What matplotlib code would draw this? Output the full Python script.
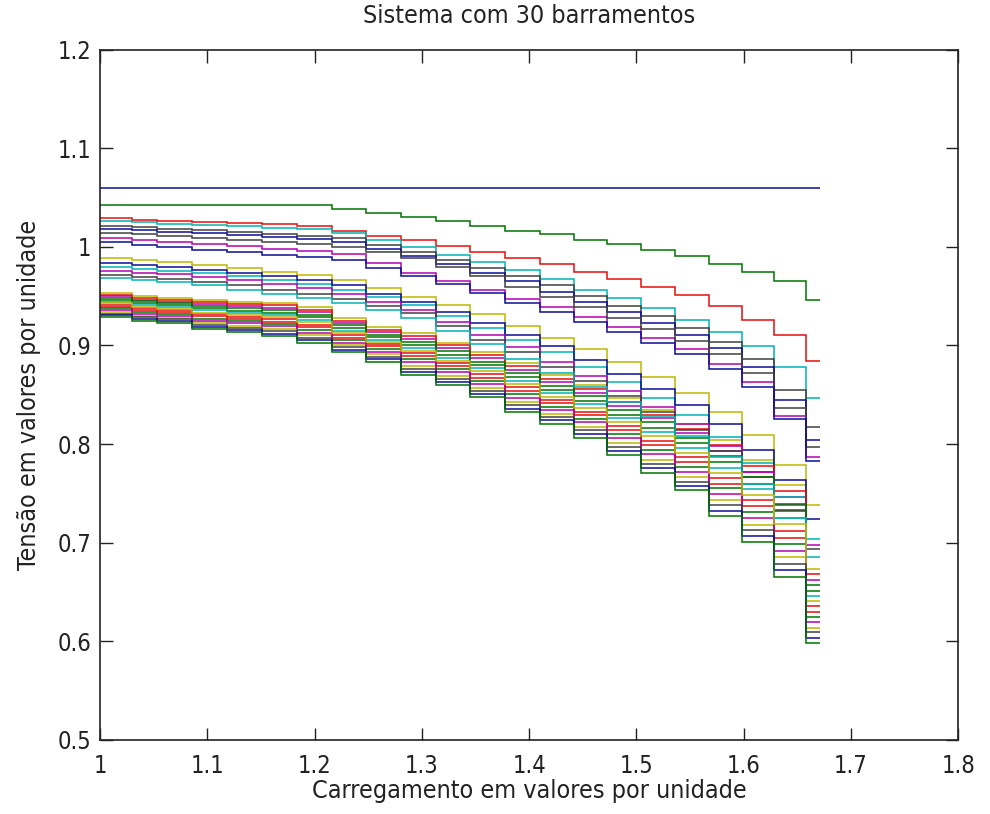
import matplotlib
matplotlib.use("Agg")
import matplotlib.pyplot as plt

# Patamares de carregamento (pu): bordas dos degraus
carregamento = [1.0, 1.0296, 1.0529, 1.0861, 1.1184, 1.1506, 1.1837, 1.2163,
                1.2480, 1.2807, 1.3128, 1.3450, 1.3776, 1.4098, 1.4420, 1.4727,
                1.5044, 1.5361, 1.5674, 1.5983, 1.6280, 1.6583, 1.6713]

# Tensões (pu) em cada patamar
v_b01 = [1.06] * 22
v_b02 = [1.042] * 7 + [1.038, 1.034, 1.030, 1.026, 1.021, 1.016, 1.013, 1.007,
                       1.003, 0.997, 0.991, 0.983, 0.975, 0.965, 0.946]
v_b03 = [1.029, 1.027, 1.026, 1.025, 1.024, 1.023, 1.021, 1.016, 1.011, 1.007, 1.001,
         0.995, 0.989, 0.983, 0.975, 0.967, 0.959, 0.951, 0.940, 0.926, 0.911, 0.884]
v_b04 = [1.026, 1.025, 1.023, 1.022, 1.021, 1.019, 1.018, 1.014, 1.007, 1.000, 0.992,
         0.985, 0.977, 0.967, 0.956, 0.948, 0.938, 0.926, 0.914, 0.899, 0.878, 0.847]
v_b05 = [0.950, 0.946, 0.944, 0.942, 0.940, 0.938, 0.934, 0.923, 0.914, 0.907, 0.897,
         0.887, 0.875, 0.863, 0.852, 0.839, 0.826, 0.811, 0.793, 0.772, 0.746, 0.662]
v_b06 = [0.989, 0.987, 0.985, 0.982, 0.979, 0.975, 0.971, 0.966, 0.958, 0.949, 0.941,
         0.932, 0.920, 0.908, 0.896, 0.883, 0.868, 0.852, 0.833, 0.809, 0.779, 0.738]
v_b07 = [1.021, 1.020, 1.018, 1.017, 1.015, 1.013, 1.011, 1.009, 1.002, 0.995, 0.987,
         0.979, 0.970, 0.961, 0.950, 0.940, 0.930, 0.918, 0.904, 0.886, 0.855, 0.817]
v_b08 = [1.018, 1.017, 1.015, 1.014, 1.012, 1.010, 1.008, 1.005, 0.998, 0.991, 0.983,
         0.974, 0.965, 0.954, 0.944, 0.934, 0.923, 0.911, 0.897, 0.878, 0.845, 0.804]
v_b09 = [0.946, 0.943, 0.941, 0.938, 0.935, 0.933, 0.929, 0.918, 0.909, 0.900, 0.890,
         0.880, 0.868, 0.855, 0.844, 0.830, 0.816, 0.801, 0.782, 0.760, 0.732, 0.651]
v_b10 = [0.941, 0.938, 0.936, 0.932, 0.929, 0.927, 0.921, 0.911, 0.901, 0.892, 0.882,
         0.871, 0.858, 0.845, 0.833, 0.818, 0.803, 0.787, 0.766, 0.743, 0.712, 0.636]
v_b11 = [0.980, 0.978, 0.976, 0.973, 0.970, 0.966, 0.962, 0.956, 0.949, 0.941, 0.930,
         0.918, 0.906, 0.893, 0.878, 0.863, 0.847, 0.829, 0.807, 0.781, 0.746, 0.704]
v_b12 = [1.009, 1.007, 1.005, 1.003, 1.001, 0.998, 0.996, 0.993, 0.984, 0.974, 0.965,
         0.956, 0.947, 0.939, 0.929, 0.919, 0.908, 0.896, 0.881, 0.863, 0.828, 0.787]
v_b13 = [0.953, 0.950, 0.948, 0.946, 0.944, 0.943, 0.939, 0.928, 0.919, 0.913, 0.903,
         0.893, 0.882, 0.870, 0.860, 0.847, 0.835, 0.820, 0.804, 0.784, 0.759, 0.673]
v_b14 = [1.014, 1.013, 1.011, 1.009, 1.007, 1.005, 1.003, 1.000, 0.995, 0.989, 0.980,
         0.970, 0.959, 0.949, 0.939, 0.928, 0.917, 0.905, 0.891, 0.872, 0.837, 0.797]
v_b15 = [0.984, 0.982, 0.980, 0.977, 0.974, 0.970, 0.966, 0.961, 0.952, 0.944, 0.934,
         0.923, 0.911, 0.899, 0.885, 0.871, 0.856, 0.840, 0.820, 0.794, 0.764, 0.724]
v_b16 = [0.938, 0.934, 0.932, 0.927, 0.925, 0.922, 0.916, 0.906, 0.896, 0.886, 0.876,
         0.864, 0.851, 0.838, 0.825, 0.810, 0.794, 0.777, 0.755, 0.731, 0.699, 0.625]
v_b17 = [0.951, 0.948, 0.946, 0.944, 0.942, 0.941, 0.936, 0.925, 0.916, 0.910, 0.900,
         0.890, 0.879, 0.866, 0.856, 0.843, 0.830, 0.815, 0.799, 0.778, 0.752, 0.668]
v_b18 = [0.944, 0.941, 0.939, 0.936, 0.933, 0.931, 0.926, 0.915, 0.906, 0.897, 0.887,
         0.877, 0.864, 0.852, 0.841, 0.826, 0.812, 0.796, 0.776, 0.754, 0.725, 0.646]
v_b19 = [0.976, 0.974, 0.972, 0.969, 0.966, 0.962, 0.958, 0.952, 0.944, 0.936, 0.924,
         0.911, 0.898, 0.883, 0.869, 0.854, 0.838, 0.820, 0.798, 0.772, 0.738, 0.698]
v_b20 = [0.934, 0.930, 0.928, 0.923, 0.920, 0.917, 0.911, 0.900, 0.891, 0.879, 0.869,
         0.857, 0.843, 0.831, 0.817, 0.801, 0.784, 0.767, 0.743, 0.718, 0.685, 0.614]
v_b21 = [0.971, 0.969, 0.967, 0.964, 0.961, 0.956, 0.952, 0.947, 0.940, 0.933, 0.920,
         0.906, 0.893, 0.878, 0.864, 0.849, 0.833, 0.814, 0.793, 0.767, 0.733, 0.694]
v_b22 = [1.005, 1.002, 1.000, 0.997, 0.995, 0.992, 0.990, 0.987, 0.979, 0.970, 0.962,
         0.953, 0.943, 0.934, 0.924, 0.914, 0.903, 0.891, 0.876, 0.858, 0.825, 0.783]
v_b23 = [0.948, 0.945, 0.943, 0.940, 0.938, 0.936, 0.931, 0.921, 0.911, 0.904, 0.894,
         0.883, 0.872, 0.859, 0.849, 0.835, 0.822, 0.806, 0.788, 0.767, 0.739, 0.657]
v_b24 = [0.939, 0.936, 0.934, 0.930, 0.927, 0.924, 0.919, 0.908, 0.899, 0.889, 0.879,
         0.867, 0.854, 0.842, 0.829, 0.814, 0.799, 0.782, 0.760, 0.737, 0.705, 0.630]
v_b25 = [0.968, 0.966, 0.964, 0.961, 0.956, 0.952, 0.948, 0.943, 0.936, 0.928, 0.915,
         0.901, 0.886, 0.872, 0.858, 0.843, 0.827, 0.808, 0.787, 0.760, 0.725, 0.686]
v_b26 = [0.936, 0.932, 0.930, 0.925, 0.923, 0.920, 0.913, 0.903, 0.893, 0.883, 0.873,
         0.861, 0.847, 0.835, 0.822, 0.806, 0.790, 0.772, 0.749, 0.725, 0.692, 0.620]
v_b27 = [0.943, 0.939, 0.937, 0.933, 0.931, 0.929, 0.924, 0.913, 0.904, 0.894, 0.884,
         0.874, 0.861, 0.848, 0.837, 0.822, 0.808, 0.791, 0.771, 0.748, 0.719, 0.641]
v_b28 = [0.932, 0.929, 0.927, 0.921, 0.918, 0.915, 0.908, 0.898, 0.888, 0.876, 0.866,
         0.854, 0.840, 0.827, 0.814, 0.797, 0.780, 0.762, 0.738, 0.713, 0.678, 0.609]
v_b29 = [0.931, 0.927, 0.925, 0.919, 0.916, 0.912, 0.906, 0.895, 0.886, 0.873, 0.863,
         0.851, 0.836, 0.824, 0.810, 0.793, 0.776, 0.758, 0.732, 0.707, 0.672, 0.603]
v_b30 = [0.929, 0.925, 0.923, 0.917, 0.914, 0.910, 0.903, 0.893, 0.883, 0.870, 0.860,
         0.848, 0.833, 0.820, 0.806, 0.789, 0.771, 0.753, 0.727, 0.701, 0.665, 0.598]

tensoes = [v_b01, v_b02, v_b03, v_b04, v_b05, v_b06, v_b07, v_b08, v_b09, v_b10,
           v_b11, v_b12, v_b13, v_b14, v_b15, v_b16, v_b17, v_b18, v_b19, v_b20,
           v_b21, v_b22, v_b23, v_b24, v_b25, v_b26, v_b27, v_b28, v_b29, v_b30]

# ordem de cores padrão do MATLAB antigo (um pouco escurecidas, como no jpg)
cores = [(0.05, 0.05, 0.6), (0.0, 0.45, 0.0), (0.9, 0.05, 0.05), (0.0, 0.7, 0.7),
         (0.7, 0.0, 0.7), (0.75, 0.72, 0.0), (0.25, 0.25, 0.25)]

plt.rcParams["font.family"] = ["DejaVu Sans"]
plt.rcParams["font.stretch"] = "condensed"

fig = plt.figure(figsize=(9.9, 8.14), dpi=100)
ax = fig.add_axes([0.101, 0.091, 0.867, 0.848])

for i, v in enumerate(tensoes):
    ax.stairs(v, carregamento, baseline=None, color=cores[i % 7], lw=1.1)

ax.set_xlim(1.0, 1.8)
ax.set_ylim(0.5, 1.2)
ax.set_xticks([1, 1.1, 1.2, 1.3, 1.4, 1.5, 1.6, 1.7, 1.8])
ax.set_xticklabels(["1", "1.1", "1.2", "1.3", "1.4", "1.5", "1.6", "1.7", "1.8"])
ax.set_yticks([0.5, 0.6, 0.7, 0.8, 0.9, 1.0, 1.1, 1.2])
ax.set_yticklabels(["0.5", "0.6", "0.7", "0.8", "0.9", "1", "1.1", "1.2"])
ax.tick_params(direction="in", top=True, right=True, length=9, width=1,
               labelsize=17, colors="#222222")
ax.tick_params(axis="x", pad=10)
ax.tick_params(axis="y", pad=6)
for s in ax.spines.values():
    s.set_linewidth(1.2)
    s.set_color("#222222")

ax.set_title("Sistema com 30 barramentos", fontsize=18, pad=19, color="#222222")
ax.set_xlabel("Carregamento em valores por unidade", fontsize=18, labelpad=1,
              color="#222222")
ax.set_ylabel("Tensão em valores por unidade", fontsize=18, labelpad=12,
              color="#222222")

fig.savefig("out.png", dpi=100)
